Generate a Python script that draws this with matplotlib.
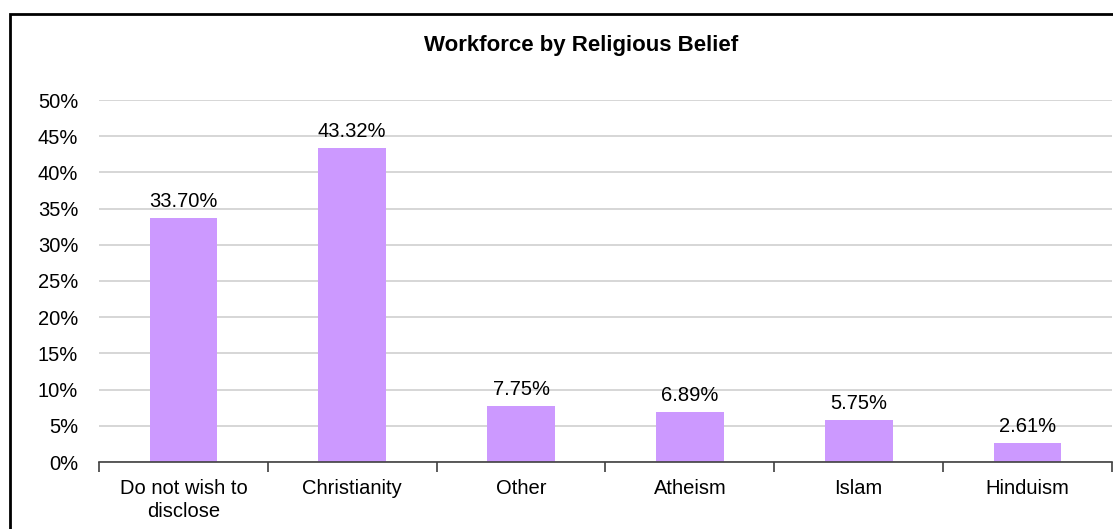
import matplotlib.pyplot as plt
import numpy as np
from matplotlib.patches import Rectangle

categories = ['Do not wish to\ndisclose', 'Christianity', 'Other', 'Atheism', 'Islam', 'Hinduism']
values = [33.70, 43.32, 7.75, 6.89, 5.75, 2.61]
title = 'Workforce by Religious Belief'

plt.rcParams['font.family'] = ['Liberation Sans', 'DejaVu Sans']
fs = 14.5

fig = plt.figure(figsize=(11.13, 5.29), dpi=100)
fig.patches.append(Rectangle((10/1113, -0.01), 1.1, 1 - 14/529 + 0.01, transform=fig.transFigure,
                             fill=False, edgecolor='black', linewidth=2))
ax = fig.add_axes([99/1113, 1 - 462/529, 1013/1113, 362/529])

x = np.arange(len(categories))
ax.bar(x, values, width=0.4, color='#CC99FF', zorder=2)
for xi, v in zip(x, values):
    ax.annotate('%.2f%%' % v, (xi, v), xytext=(0, 5), textcoords='offset points',
                ha='center', va='bottom', fontsize=fs)

ax.set_xlim(-0.5, len(categories) - 0.5)
ax.set_ylim(0, 50)
ax.set_yticks(np.arange(0, 51, 5))
ax.set_yticklabels(['%d%%' % t for t in range(0, 51, 5)], fontsize=fs)
ax.set_xticks(x)
ax.set_xticklabels(categories, fontsize=fs, linespacing=1.3)
ax.set_xticks(np.arange(-0.5, len(categories), 1), minor=True)
ax.tick_params(axis='x', which='major', length=0, pad=12)
ax.tick_params(axis='x', which='minor', length=7, width=1.2, color='#404040')
ax.tick_params(axis='y', length=0, pad=15)
ax.yaxis.grid(True, color='#D0D0D0', linewidth=1.2, zorder=0)
for s in ['left', 'right', 'top']:
    ax.spines[s].set_visible(False)
ax.spines['bottom'].set_color('#404040')
ax.spines['bottom'].set_linewidth(1.2)
ax.spines['bottom'].set_zorder(3)

fig.text(581/1113, 1 - 45/529, title, ha='center', va='center', fontsize=16, fontweight='bold')

plt.savefig('out.png', dpi=100)
